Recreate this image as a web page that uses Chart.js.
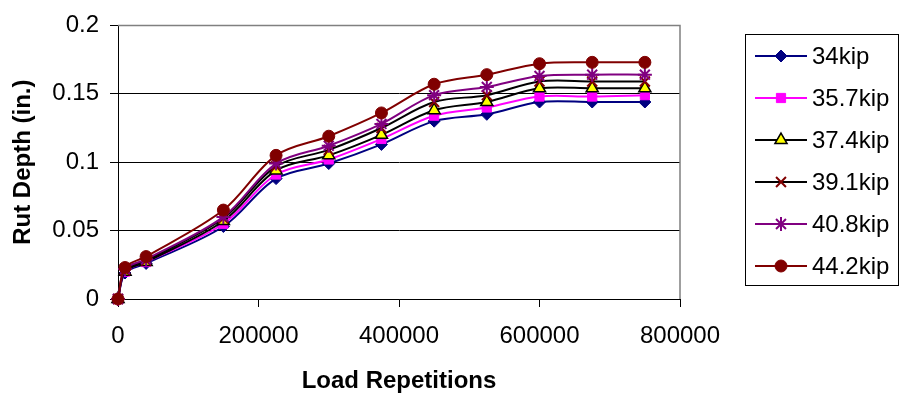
<!DOCTYPE html>
<html>
<head>
<meta charset="utf-8">
<script src="https://cdn.jsdelivr.net/npm/chart.js@4.4.1/dist/chart.umd.min.js"></script>
<style>
  body { margin: 0; background: #fff; }
</style>
</head>
<body>
<canvas id="chartRut" width="900" height="402"></canvas>
<script>
// load repetitions (x) and rut depth in inches (y) per axle load
const repetitions = [0, 10000, 40000, 150000, 225000, 300000, 375000, 450000, 525000, 600000, 675000, 750000];
const rut34 = [0, 0.019, 0.026, 0.053, 0.088, 0.099, 0.113, 0.130, 0.135, 0.144, 0.144, 0.144];
const rut357 = [0, 0.020, 0.027, 0.055, 0.091, 0.102, 0.117, 0.134, 0.140, 0.148, 0.148, 0.149];
const rut374 = [0, 0.020, 0.027, 0.057, 0.094, 0.105, 0.120, 0.138, 0.144, 0.154, 0.154, 0.154];
const rut391 = [0, 0.021, 0.028, 0.059, 0.097, 0.109, 0.125, 0.144, 0.149, 0.159, 0.159, 0.159];
const rut408 = [0, 0.022, 0.029, 0.060, 0.099, 0.112, 0.128, 0.149, 0.155, 0.163, 0.164, 0.164];
const rut442 = [0, 0.023, 0.031, 0.065, 0.105, 0.119, 0.136, 0.157, 0.164, 0.172, 0.173, 0.173];
const seriesNames = ['34kip', '35.7kip', '37.4kip', '39.1kip', '40.8kip', '44.2kip'];
const xTicks = [0, 200000, 400000, 600000, 800000];
const yTicks = [0, 0.05, 0.1, 0.15, 0.2];

const FONT = "'Liberation Sans', Arial, sans-serif";
Chart.defaults.font.family = FONT;
Chart.defaults.color = '#000';

function pts(vals) {
  return vals.map((v, i) => ({ x: repetitions[i], y: v }));
}

const styles = [
  { line: '#000080', fill: '#000080', edge: '#000080', shape: 'rectRot', r: 6, bw: 1 },
  { line: '#ff00ff', fill: '#ff00ff', edge: '#ff00ff', shape: 'rect', r: 6.5, bw: 1 },
  { line: '#000000', fill: '#ffff00', edge: '#000000', shape: 'triangle', r: 7, bw: 1.5 },
  { line: '#000000', fill: '#800000', edge: '#800000', shape: 'crossRot', r: 7, bw: 2 },
  { line: '#800080', fill: '#800080', edge: '#800080', shape: 'star', r: 7, bw: 2 },
  { line: '#800000', fill: '#800000', edge: '#800000', shape: 'circle', r: 6, bw: 1 }
];
const allSeries = [rut34, rut357, rut374, rut391, rut408, rut442];

const datasets = allSeries.map((vals, i) => ({
  label: seriesNames[i],
  data: pts(vals),
  borderColor: styles[i].line,
  borderWidth: 2,
  tension: 0.33,
  clip: false,
  pointStyle: styles[i].shape,
  pointRadius: styles[i].r,
  pointBackgroundColor: styles[i].fill,
  pointBorderColor: styles[i].edge,
  pointBorderWidth: styles[i].bw,
  order: allSeries.length - 1 - i
}));

// gray frame on top/right of plot + boxed legend with line-and-marker samples
const frameAndLegend = {
  id: 'frameAndLegend',
  beforeDatasetsDraw(chart) {
    const { ctx, chartArea: a } = chart;
    ctx.save();
    ctx.strokeStyle = '#808080';
    ctx.lineWidth = 1.5;
    ctx.beginPath();
    ctx.moveTo(a.left, a.top);
    ctx.lineTo(a.right, a.top);
    ctx.lineTo(a.right, a.bottom);
    ctx.stroke();
    ctx.restore();
  },
  afterDraw(chart) {
    const ctx = chart.ctx;
    ctx.save();
    ctx.strokeStyle = '#000';
    ctx.lineWidth = 1;
    ctx.strokeRect(745.5, 34.5, 153, 251);
    ctx.font = '24px ' + FONT;
    ctx.textBaseline = 'middle';
    ctx.textAlign = 'left';
    chart.data.datasets.forEach((ds, i) => {
      const y = 56 + i * 42;
      ctx.strokeStyle = ds.borderColor;
      ctx.lineWidth = 2;
      ctx.beginPath();
      ctx.moveTo(755, y);
      ctx.lineTo(807, y);
      ctx.stroke();
      ctx.fillStyle = ds.pointBackgroundColor;
      ctx.strokeStyle = ds.pointBorderColor;
      ctx.lineWidth = ds.pointBorderWidth;
      Chart.helpers.drawPoint(ctx, { pointStyle: ds.pointStyle, radius: ds.pointRadius, borderWidth: ds.pointBorderWidth }, 781, y);
      ctx.fillStyle = '#000';
      ctx.fillText(ds.label, 812, y + 1);
    });
    ctx.restore();
  }
};

new Chart(document.getElementById('chartRut'), {
  type: 'line',
  data: { datasets },
  plugins: [frameAndLegend],
  options: {
    responsive: false,
    animation: false,
    layout: { padding: { left: 0, top: 21, right: 220, bottom: 0 } },
    plugins: { legend: { display: false }, tooltip: { enabled: false } },
    scales: {
      x: {
        type: 'linear',
        min: 0,
        max: 800000,
        afterBuildTicks(scale) { scale.ticks = xTicks.map(v => ({ value: v })); },
        afterFit(scale) { scale.height = 103; },
        ticks: {
          font: { size: 24 },
          padding: 15,
          maxRotation: 0,
          callback: v => String(v)
        },
        grid: { drawOnChartArea: false, color: '#000', tickLength: 8 },
        border: { color: '#000', width: 1 },
        title: {
          display: true,
          text: 'Load Repetitions',
          font: { size: 24, weight: 'bold' },
          padding: { top: 0, bottom: 6 }
        }
      },
      y: {
        min: 0,
        max: 0.2,
        afterBuildTicks(scale) { scale.ticks = yTicks.map(v => ({ value: v })); },
        afterFit(scale) { scale.width = 118; },
        ticks: {
          font: { size: 24 },
          padding: 11,
          callback: v => String(+v.toFixed(2))
        },
        grid: { color: '#000', lineWidth: 1, tickLength: 8 },
        border: { color: '#000', width: 1 },
        title: {
          display: true,
          text: 'Rut Depth (in.)',
          font: { size: 24, weight: 'bold' },
          padding: { top: 9, bottom: 0 }
        }
      }
    }
  }
});
</script>
</body>
</html>
